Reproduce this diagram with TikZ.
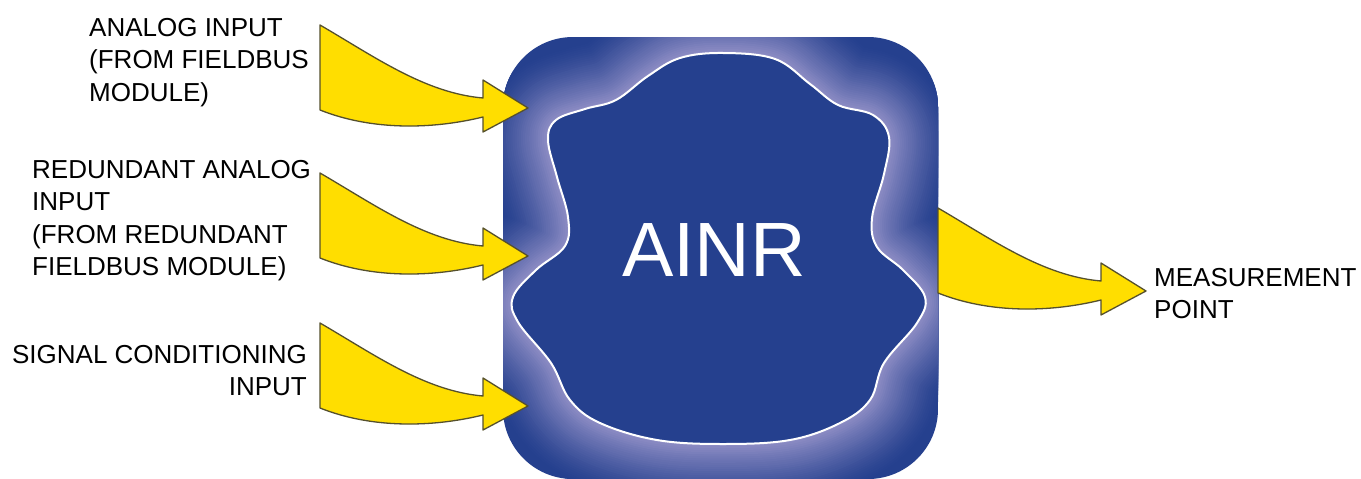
\documentclass[tikz,border=0pt]{standalone}
\usepackage{fontspec}
\setmainfont{Liberation Sans}
\definecolor{boxblue}{RGB}{37,64,142}
\definecolor{glowc}{RGB}{140,140,196}
\definecolor{arrowfill}{RGB}{255,222,0}
\definecolor{arrowline}{RGB}{85,80,45}
\tikzset{
  yarrow/.style={fill=arrowfill, draw=arrowline, line width=1.3pt, line join=round},
  lbl/.style={font=\fontsize{26}{32.5}\selectfont, inner sep=0pt, text=black},
  pics/inarrow/.style={code={
    \draw[yarrow] (0,0) .. controls (55,32) and (105,68) .. (163,73) -- (163,55) -- (208,83)
      -- (163,107) -- (163,92) .. controls (110,105) and (50,105) .. (0,85) -- cycle;}}
}
\def\blobpath{plot[smooth cycle, tension=0.62] coordinates {
(723,53) (775,59) (810,84) (838,105) (873,115) (889,137) (884,174) (872,218) (877,247)
(903,270) (925,297) (917,323) (884,363) (870,400) (840,423) (790,440) (723,444)
(657,440) (600,423) (570,400) (551,363) (518,322) (513,297) (536,270) (565,246)
(568,217) (557,177) (548,140) (556,120) (585,109) (616,100) (648,76) (680,58)}}
\begin{document}
\begin{tikzpicture}[x=1pt,y=-1pt]
\useasboundingbox (0,0) rectangle (1361,479);
\fill[white] (0,0) rectangle (1361,479);
% central block
\begin{scope}
  \clip[rounded corners=70pt] (503,37) rectangle (938,479);
  \fill[boxblue] (503,37) rectangle (938,479);
  \foreach \i in {0,...,30}{
    \pgfmathsetmacro{\w}{130-4.2*\i}
    \pgfmathtruncatemacro{\p}{100*(\i/30)^1.3}
    \draw[line width=\w pt, color=glowc!\p!boxblue, line join=round] \blobpath;
  }
  \fill[boxblue] \blobpath;
  \draw[white, line width=2pt] \blobpath;
\end{scope}
\node[font=\fontsize{77}{80}\selectfont, text=white, inner sep=0pt] (ainr) at (714,250) {AINR};
% arrows
\pic (a1) at (320,25) {inarrow};
\pic (a2) at (320,173) {inarrow};
\pic (a3) at (320,323) {inarrow};
\pic (a4) at (938,208) {inarrow};
% labels
\node[lbl, align=left, anchor=north west] (l1) at (89,18) {ANALOG INPUT\\(FROM FIELDBUS\\MODULE)};
\node[lbl, align=left, anchor=north west] (l2) at (32,160) {REDUNDANT ANALOG\\INPUT\\(FROM REDUNDANT\\FIELDBUS MODULE)};
\node[lbl, align=right, anchor=north east] (l3) at (307,345) {SIGNAL CONDITIONING\\INPUT};
\node[lbl, align=left, anchor=north west] (l4) at (1154,268) {MEASUREMENT\\POINT};
\end{tikzpicture}
\end{document}
